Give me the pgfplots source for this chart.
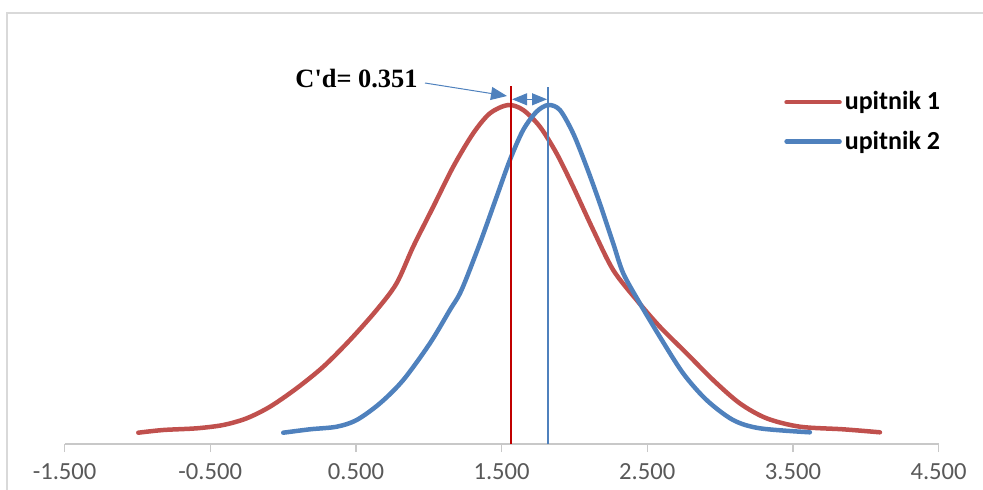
\documentclass[border=0pt]{standalone}
\usepackage{pgfplots}
\pgfplotsset{compat=1.18}
\usetikzlibrary{arrows.meta}
\usepackage{fontspec}
\setmainfont{Carlito}
\newfontfamily\timesfont{Liberation Serif}
\definecolor{redcurve}{HTML}{C0504D}
\definecolor{bluecurve}{HTML}{4F81BD}
\definecolor{redline}{HTML}{C00000}
\definecolor{axisgray}{HTML}{C8C8C8}
\definecolor{framegray}{HTML}{D9D9D9}
\definecolor{labelgray}{HTML}{595959}
\begin{document}
\begin{tikzpicture}
\useasboundingbox (-32.3pt,-22.5pt) rectangle (459.2pt,222pt);
\begin{axis}[
  at={(0pt,0pt)}, anchor=south west,
  scale only axis, width=437pt, height=210pt,
  xmin=-1.5, xmax=4.5, ymin=0, ymax=420,
  axis x line=bottom, axis y line=none,
  x axis line style={-, draw=axisgray, line width=0.6pt},
  xtick={-1.5,-0.5,0.5,1.5,2.5,3.5,4.5},
  ytick=\empty,
  tick align=outside, major tick length=4pt,
  xtick style={draw=axisgray, line width=0.6pt},
  xticklabel style={font=\fontsize{12.3}{14}\selectfont, text=labelgray, yshift=-2.2pt,
    /pgf/number format/.cd, fixed, fixed zerofill, precision=3, assume math mode=true},
  clip=false,
  legend cell align=left,
  legend image code/.code={\draw[#1, line width=2.25pt] (0pt,0pt) -- (26.5pt,0pt);},
  legend style={draw=none, fill=none, at={(axis description cs:0.823,0.767)}, anchor=west,
    font=\bfseries\fontsize{13}{15}\selectfont, inner sep=0pt,
    nodes={inner sep=1.5pt}, row sep=6pt},
]
\addplot[redcurve, line width=2.25pt, smooth, line cap=round] coordinates {
  (-0.994,11.3) (-0.823,14) (-0.593,15.7) (-0.411,19) (-0.250,25.7) (-0.090,37.3)
  (0.093,55.7) (0.276,77.3) (0.459,104) (0.642,134) (0.779,160.7) (0.893,197.3)
  (1.031,237.3) (1.168,277.3) (1.305,310.7) (1.420,330.7) (1.545,339) (1.648,334)
  (1.763,317.3) (1.877,290.7) (1.991,257.3) (2.129,214) (2.266,174) (2.427,144)
  (2.586,117.3) (2.770,90.7) (2.952,64) (3.135,40.7) (3.319,25.7) (3.548,17.3)
  (3.845,14.7) (4.097,11.7)};
\addlegendentry{upitnik 1}
\addplot[bluecurve, line width=2.25pt, smooth, line cap=round] coordinates {
  (0.001,11.3) (0.184,14.7) (0.368,17.3) (0.505,24) (0.665,40.7) (0.825,64)
  (1.008,100.7) (1.145,134) (1.225,154) (1.351,200.7) (1.466,247.3) (1.557,284)
  (1.648,314) (1.740,332.3) (1.820,339) (1.900,334) (1.991,310.7) (2.083,277.3)
  (2.174,240.7) (2.266,200.7) (2.335,170.7) (2.449,140.7) (2.586,107.3) (2.746,70.7)
  (2.907,44) (3.089,24) (3.273,15.7) (3.616,11.7)};
\addlegendentry{upitnik 2}
% mean lines
\addplot[redline, line width=1.25pt, forget plot] coordinates {(1.564,0) (1.564,358)};
\addplot[bluecurve, line width=0.75pt, forget plot] coordinates {(1.820,0) (1.820,357)};
% annotation
\node[anchor=base east, font=\timesfont\bfseries\fontsize{13.2}{15}\selectfont, inner sep=0pt]
  at (axis cs:0.926,357) {C\textquotesingle d= 0.351};
\draw[bluecurve, line width=0.5pt, -{Triangle[length=8pt,width=6.5pt]}]
  (axis cs:0.974,361) -- (axis cs:1.537,348);
\draw[bluecurve, line width=0.5pt, {Triangle[length=7.5pt,width=6pt]}-{Triangle[length=7.5pt,width=6pt]}]
  (axis cs:1.572,344.7) -- (axis cs:1.812,344.7);
\end{axis}
\draw[framegray, line width=0.75pt] (-28.8pt,-40pt) -- (-28.8pt,215.5pt) -- (480pt,215.5pt);
\end{tikzpicture}
\end{document}
